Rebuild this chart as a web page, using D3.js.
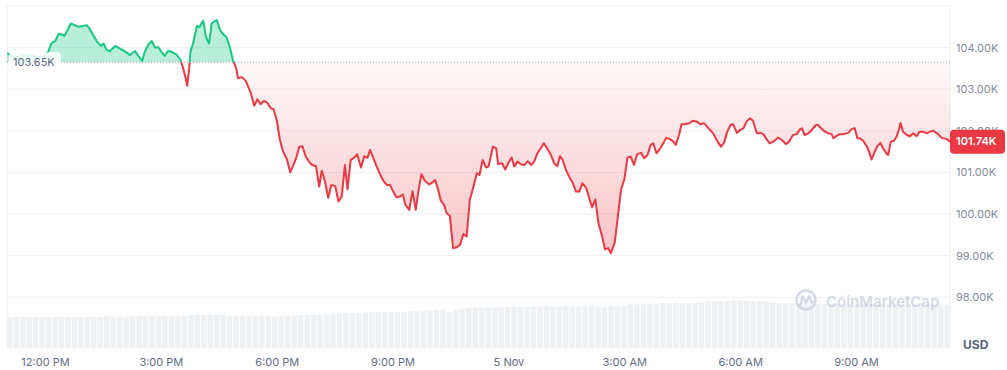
<!DOCTYPE html>
<html>
<head>
<meta charset="utf-8">
<script src="https://cdn.jsdelivr.net/npm/d3@7"></script>
<style>
  body { margin: 0; background: #fff; font-family: Inter, "Noto Sans", sans-serif; }
</style>
</head>
<body>
<svg id="chart" width="1007" height="370"></svg>
<script>
// BTC / USD, last 24h (thousands of USD)
const startTime = new Date(2024, 10, 4, 11, 1);
const openPrice = 103.65;
const priceTicks = [98, 99, 100, 101, 102, 103, 104];

// minutes after startTime
const minutes = [0,8,17,28,39,51,57,64,69,75,80,85,89,94,99,105,111,118,124,128,
  134,140,146,150,155,160,168,173,180,186,191,199,204,210,214,220,225,230,235,240,
  245,250,256,263,269,273,277,280,283,285,289,295,299,302,305,309,314,318,323,326,
  331,336,341,346,351,356,359,365,371,379,384,389,394,399,404,410,414,419,424,429,
  435,440,445,450,454,459,464,469,474,480,485,489,494,499,504,510,515,520,525,529,
  534,540,544,550,555,560,564,569,574,580,585,590,595,600,605,611,615,619,625,630,
  635,639,644,649,656,661,665,670,674,679,683,688,693,699,704,709,714,719,724,730,
  734,739,744,748,755,760,763,769,774,779,784,788,793,799,804,809,814,819,824,830,
  834,839,845,850,855,859,863,868,874,879,884,889,894,900,905,909,914,919,924,929,
  934,938,944,949,954,959,964,969,974,979,985,990,995,1000,1004,1009,1015,1020,1024,1030,
  1035,1039,1044,1048,1053,1060,1065,1072,1077,1083,1090,1097,1104,1109,1114,1119,1124,1128,1134,1139,
  1144,1149,1154,1159,1165,1170,1175,1179,1185,1192,1198,1204,1210,1215,1221,1227,1232,1235,1239,1245,
  1250,1257,1260,1266,1271,1276,1281,1284,1289,1294,1300,1307,1312,1317,1321,1325,1330,1336,1340,1343,
  1347,1352,1357,1361,1367,1369,1373,1378,1382,1386,1388,1392,1398,1403,1408,1413,1418,1424,1429,1434,
  1439,1445,1452,1460,1465];

const prices = [103.87,103.80,103.77,103.82,103.80,103.77,103.80,103.90,104.10,104.16,
  104.32,104.32,104.28,104.42,104.58,104.54,104.50,104.52,104.54,104.46,
  104.30,104.14,104.04,104.10,103.94,103.92,104.04,104.00,103.94,103.88,
  103.82,103.92,103.80,103.68,103.90,104.08,104.16,104.00,104.01,103.90,
  103.80,103.92,103.90,103.84,103.72,103.54,103.30,103.08,103.50,103.90,
  104.10,104.52,104.49,104.58,104.64,104.26,104.10,104.58,104.64,104.66,
  104.42,104.32,104.25,104.02,103.70,103.50,103.26,103.29,103.20,102.90,
  102.60,102.76,102.64,102.72,102.68,102.54,102.52,102.26,101.78,101.50,
  101.31,101.00,101.18,101.38,101.62,101.63,101.39,101.26,101.18,101.15,
  100.66,101.04,100.78,100.39,100.70,100.67,100.30,100.42,101.18,100.59,
  101.30,101.36,101.44,101.12,101.39,101.35,101.54,101.35,101.15,100.94,
  100.79,100.70,100.70,100.54,100.40,100.42,100.47,100.22,100.10,100.55,
  100.10,100.54,100.96,100.80,100.71,100.76,100.82,100.58,100.32,100.22,
  100.02,99.96,99.18,99.20,99.27,99.52,99.46,100.34,100.62,100.98,
  100.94,101.30,101.12,101.14,101.62,101.58,101.20,101.22,101.07,101.23,
  101.36,101.14,101.26,101.19,101.18,101.27,101.18,101.26,101.46,101.60,
  101.70,101.58,101.42,101.22,101.15,101.39,101.31,101.07,100.88,100.75,
  100.54,100.54,100.74,100.62,100.36,100.16,100.35,99.76,99.50,99.15,
  99.18,99.06,99.30,99.94,100.59,100.83,101.36,101.38,101.18,101.44,
  101.47,101.34,101.42,101.66,101.70,101.46,101.58,101.71,101.83,101.80,
  101.74,101.66,101.90,102.16,102.16,102.18,102.24,102.22,102.16,102.18,
  102.06,101.94,101.74,101.62,101.71,101.98,102.14,102.16,101.95,102.02,
  102.06,102.22,102.30,102.24,101.94,101.95,101.92,101.82,101.70,101.76,
  101.84,101.78,101.68,101.74,101.90,101.92,102.04,102.06,101.90,101.94,
  102.02,102.14,102.14,102.04,101.98,101.94,101.92,101.82,101.88,101.92,
  101.92,101.95,102.04,102.06,101.82,101.82,101.76,101.62,101.47,101.31,
  101.46,101.63,101.71,101.58,101.44,101.42,101.74,101.76,101.86,102.04,
  102.19,101.98,101.90,101.87,101.94,101.87,101.98,101.98,101.94,101.98,
  102.00,101.94,101.83,101.80,101.74];

// 24h volume, billions USD, one bar per 10 min
const volumes = [31.0,31.0,31.1,31.0,31.0,30.9,31.0,31.0,31.1,31.0,31.0,30.9,31.0,31.0,31.1,
  32.2,31.4,31.5,31.6,
  32.0,32.1,32.0,32.0,32.1,32.0,32.0,32.1,32.2,
  33.0,33.1,33.1,33.0,33.1,33.0,
  32.2,32.1,32.0,32.1,32.0,32.1,32.0,
  31.4,32.2,32.3,32.4,
  33.0,33.1,33.1,33.2,34.0,34.1,
  34.7,34.8,34.7,34.8,
  35.7,35.8,35.7,35.8,35.7,35.8,35.9,
  36.7,36.8,37.6,37.7,37.8,38.6,35.6,38.4,39.4,40.2,
  40.7,40.7,40.8,40.7,40.8,
  41.2,41.3,41.3,41.2,41.4,41.3,41.4,41.5,41.4,41.5,41.6,41.5,41.7,
  42.2,41.6,41.7,41.6,41.7,41.8,
  43.6,43.7,43.7,43.8,43.7,
  45.2,45.3,45.3,45.4,45.3,45.4,45.5,
  46.6,46.7,46.8,46.9,47.2,47.3,47.1,46.9,46.8,46.7,
  45.4,45.3,45.3,45.2,45.3,
  44.2,44.1,44.0,44.1,44.0,43.9,44.0,43.9,43.8,43.9,43.8,43.7,43.8,43.7,43.6,43.7,43.6,43.5,43.6,43.5,43.4,43.5,43.4];

const plotL = 7, plotR = 950, plotT = 6, plotB = 348;
const green = "#16c784", red = "#ea3943", grid = "#eef0f3";

const svg = d3.select("#chart");
const data = minutes.map((m, i) => ({ t: d3.timeMinute.offset(startTime, m), p: prices[i] }));

const x = d3.scaleTime()
  .domain([startTime, data[data.length - 1].t])
  .range([plotL, plotR]);
const y = d3.scaleLinear().domain([96.78, 105]).range([plotB, plotT]);
const yVol = d3.scaleLinear().domain([0, 50]).range([plotB, plotB - 50]);
const xVol = d3.scaleBand().domain(d3.range(volumes.length)).range([plotL, plotR]).paddingInner(0.15);

const y0 = y(openPrice);
const defs = svg.append("defs");

defs.append("clipPath").attr("id", "clip-up")
  .append("rect").attr("x", plotL).attr("y", plotT).attr("width", plotR - plotL).attr("height", y0 - plotT);
defs.append("clipPath").attr("id", "clip-down")
  .append("rect").attr("x", plotL).attr("y", y0).attr("width", plotR - plotL).attr("height", plotB - y0);

const grad = defs.append("linearGradient").attr("id", "red-fill")
  .attr("gradientUnits", "userSpaceOnUse")
  .attr("x1", 0).attr("x2", 0).attr("y1", y0).attr("y2", y(d3.min(prices)));
grad.append("stop").attr("offset", 0).attr("stop-color", red).attr("stop-opacity", 0.03);
grad.append("stop").attr("offset", 1).attr("stop-color", red).attr("stop-opacity", 0.3);

// grid + frame
svg.append("g").selectAll("line").data(priceTicks).join("line")
  .attr("x1", plotL).attr("x2", plotR)
  .attr("y1", d => y(d)).attr("y2", d => y(d))
  .attr("stroke", grid).attr("stroke-width", 1);
svg.append("path")
  .attr("d", `M${plotL},${plotB}V${plotT}H${plotR}V${plotB}`)
  .attr("fill", "none").attr("stroke", grid).attr("stroke-width", 1);

// volume
svg.append("g").selectAll("rect").data(volumes).join("rect")
  .attr("x", (d, i) => xVol(i))
  .attr("width", xVol.bandwidth())
  .attr("y", d => yVol(d))
  .attr("height", d => plotB - yVol(d))
  .attr("fill", "#eef1f4");

// watermark
const wm = svg.append("g").attr("opacity", 0.9);
wm.append("circle").attr("cx", 806).attr("cy", 300).attr("r", 9.5)
  .attr("fill", "none").attr("stroke", "#cfd6e4").attr("stroke-width", 2.4);
wm.append("path")
  .attr("d", "M800.5,305 L802.5,296 L806,303 L809.5,296 L811.5,303 L814,301")
  .attr("fill", "none").attr("stroke", "#cfd6e4").attr("stroke-width", 2.2)
  .attr("stroke-linejoin", "round").attr("stroke-linecap", "round");
wm.append("text").attr("x", 826).attr("y", 306.5)
  .attr("font-size", 15).attr("font-weight", 600).attr("fill", "#cfd6e4")
  .text("CoinMarketCap");

// areas
const area = d3.area().x(d => x(d.t)).y0(y0).y1(d => y(d.p));
const line = d3.line().x(d => x(d.t)).y(d => y(d.p));

svg.append("path").datum(data).attr("d", area)
  .attr("clip-path", "url(#clip-up)").attr("fill", green).attr("fill-opacity", 0.3);
svg.append("path").datum(data).attr("d", area)
  .attr("clip-path", "url(#clip-down)").attr("fill", "url(#red-fill)");

// open price reference
svg.append("line")
  .attr("x1", plotL).attr("x2", plotR).attr("y1", y0).attr("y2", y0)
  .attr("stroke", "#9aa3b0").attr("stroke-width", 1).attr("stroke-dasharray", "1,2");

svg.append("path").datum(data).attr("d", line)
  .attr("clip-path", "url(#clip-up)").attr("fill", "none")
  .attr("stroke", green).attr("stroke-width", 2).attr("stroke-linejoin", "round");
svg.append("path").datum(data).attr("d", line)
  .attr("clip-path", "url(#clip-down)").attr("fill", "none")
  .attr("stroke", red).attr("stroke-width", 2).attr("stroke-linejoin", "round");

// open price label
svg.append("rect").attr("x", 9).attr("y", y0 - 10).attr("width", 52).attr("height", 20).attr("rx", 4)
  .attr("fill", "#fff").attr("fill-opacity", 0.85);
svg.append("text").attr("x", 13).attr("y", y0 + 1).attr("dominant-baseline", "middle")
  .attr("font-size", 11).attr("fill", "#58667e")
  .text(d3.format(".2f")(openPrice) + "K");

// y axis
const yAxis = svg.append("g").attr("transform", `translate(${plotR},0)`)
  .call(d3.axisRight(y).tickValues(priceTicks).tickSize(0).tickPadding(6)
    .tickFormat(d => d3.format(".2f")(d) + "K"));
yAxis.select(".domain").remove();
yAxis.selectAll("text").attr("font-size", 11).attr("fill", "#808a9d").attr("font-family", "Inter");

// x axis
const fmtHour = d3.timeFormat("%-I:%M %p"), fmtDay = d3.timeFormat("%-d %b");
const xAxis = svg.append("g").attr("transform", `translate(0,${plotB})`)
  .call(d3.axisBottom(x).ticks(d3.timeHour.every(3)).tickSize(0).tickPadding(10)
    .tickFormat(d => d.getHours() === 0 ? fmtDay(d) : fmtHour(d)));
xAxis.select(".domain").remove();
xAxis.selectAll("text").attr("font-size", 11).attr("fill", "#616e85").attr("font-family", "Inter");

// last price badge
const last = data[data.length - 1];
const ly = y(last.p);
svg.append("rect").attr("x", plotR).attr("y", ly - 12).attr("width", 55).attr("height", 24).attr("rx", 4)
  .attr("fill", red);
svg.append("text").attr("x", plotR + 6).attr("y", ly + 0.5).attr("dominant-baseline", "middle")
  .attr("font-size", 11).attr("font-weight", 600).attr("fill", "#fff")
  .text(d3.format(".2f")(last.p) + "K");

svg.append("text").attr("x", 963).attr("y", 346).attr("dominant-baseline", "middle")
  .attr("font-size", 12).attr("font-weight", 700).attr("fill", "#58667e")
  .text("USD");
</script>
</body>
</html>
